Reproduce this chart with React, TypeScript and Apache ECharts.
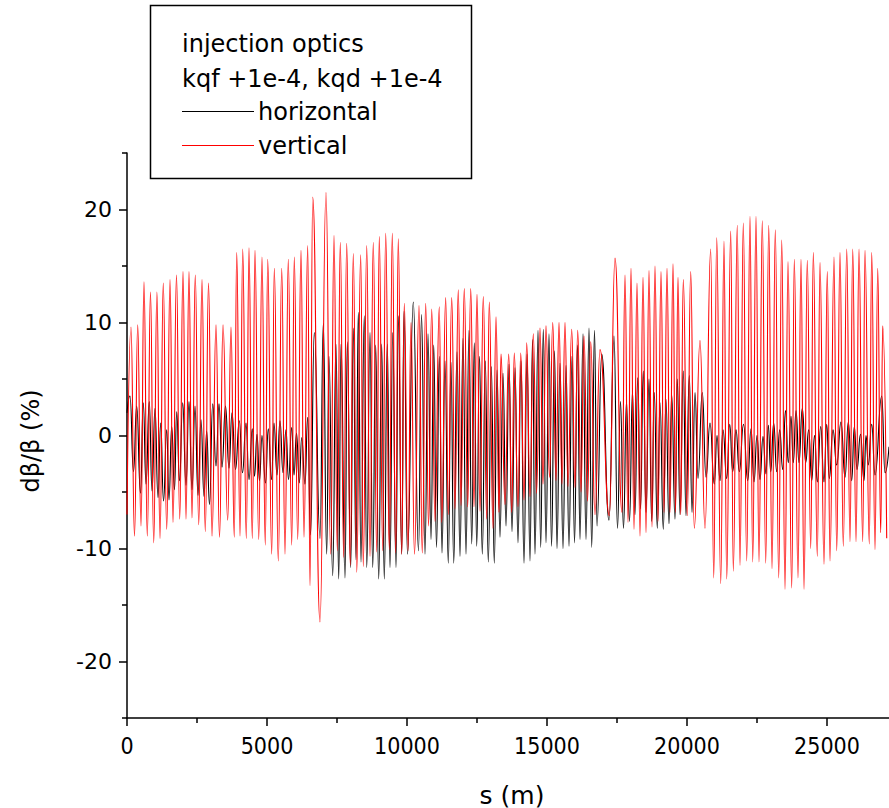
import React, { useEffect, useRef } from "react";
import * as echarts from "echarts";

const xMajor = [0, 5000, 10000, 15000, 20000, 25000];
const xMinor = [2500, 7500, 12500, 17500, 22500];
const yMajor = [-20, -10, 0, 10, 20];
const yMinor = [-25, -15, -5, 5, 15, 25];

const legendTitle = ["injection optics", "kqf +1e-4, kqd +1e-4"];
const seriesNames = ["horizontal", "vertical"];

// s (m), dβ/β (%) — extremes
const horizontal: [number, number][] = [
  [0, 2.0], [107, 3.5], [232, -3.2], [346, 2.6], [482, -5.1], [582, 2.9], [679, -4.3], [796, 3.0], [893, -4.9], [1000, 2.4],
  [1107, -5.5], [1204, 1.1], [1304, -5.8], [1418, 0.5], [1500, -5.7], [1596, 0.8], [1696, -4.8], [1775, 2.1], [1875, -4.0], [1989, 2.9],
  [2107, -4.4], [2214, 3.0], [2321, -4.8], [2429, 2.6], [2536, -5.3], [2643, 1.4], [2750, -5.4], [2846, 0.4], [2946, -6.1], [3061, 2.8],
  [3179, -2.7], [3286, 2.8], [3393, -2.8], [3518, 2.6], [3643, -2.9], [3750, 2.0], [3875, -3.0], [4011, 1.3], [4125, -3.3], [4250, 1.1],
  [4357, -3.9], [4475, 0.6], [4554, -3.6], [4643, 0.1], [4732, -4.0], [4821, 0.0], [4946, -4.2], [5046, 0.6], [5161, -3.9], [5250, 1.1],
  [5357, -3.5], [5464, 1.3], [5571, -3.3], [5679, 0.5], [5768, -3.9], [5882, 0.7], [5964, -3.5], [6054, 0.2], [6154, -4.2], [6239, -0.2],
  [6357, -4.3], [6454, 1.6], [6554, -8.8], [6689, 9.1], [6893, -9.1], [7011, 9.9], [7132, -10.5], [7214, 7.0], [7346, -12.4], [7464, 8.1],
  [7561, -12.7], [7643, 8.1], [7786, -12.6], [7868, 8.3], [7989, -11.7], [8082, 9.5], [8179, -11.0], [8261, 10.9], [8357, -11.2], [8475, 10.6],
  [8561, -11.7], [8679, 9.1], [8775, -11.7], [8882, 8.0], [8989, -12.7], [9096, 8.1], [9189, -12.7], [9296, 8.1], [9393, -11.7], [9489, 9.1],
  [9607, -11.7], [9689, 10.6], [9811, -10.5], [9893, 11.0], [10018, -10.5], [10225, 11.8], [10411, -10.2], [10518, 10.7], [10643, -10.5], [10750, 9.0],
  [10857, -9.2], [10954, 8.0], [11054, -9.9], [11154, 7.0], [11250, -10.4], [11357, 6.6], [11475, -11.3], [11571, 6.5], [11668, -11.3], [11786, 7.4],
  [11893, -10.7], [12000, 8.6], [12107, -10.5], [12214, 9.3], [12311, -9.6], [12404, 8.2], [12489, -9.8], [12589, 7.0], [12689, -10.5], [12796, 6.6],
  [12904, -11.2], [13011, 6.1], [13118, -11.3], [13214, 5.8], [13321, -9.0], [13429, 5.5], [13536, -8.0], [13643, 6.3], [13750, -8.5], [13857, 6.0],
  [13964, -9.5], [14071, 6.6], [14179, -11.3], [14286, 7.2], [14393, -11.1], [14482, 8.5], [14571, -10.5], [14679, 9.3], [14775, -9.9], [14868, 9.4],
  [14964, -9.5], [15071, 9.0], [15161, -9.8], [15268, 7.5], [15357, -10.0], [15464, 6.4], [15571, -10.0], [15679, 6.2], [15786, -9.8], [15893, 7.0],
  [15982, -9.5], [16089, 8.0], [16179, -9.2], [16286, 9.0], [16393, -9.2], [16500, 9.5], [16596, -9.9], [16696, 9.3], [16786, -8.0], [16954, 7.2],
  [17214, -7.5], [17393, 8.8], [17518, -8.2], [17625, 3.0], [17732, -8.2], [17839, 3.0], [17946, -7.6], [18054, 3.9], [18143, -7.0], [18239, 5.1],
  [18339, -6.5], [18439, 5.7], [18536, -6.8], [18643, 5.0], [18739, -7.6], [18832, 3.8], [18939, -8.2], [19036, 2.9], [19154, -8.3], [19250, 3.2],
  [19357, -7.8], [19454, 3.6], [19571, -7.4], [19654, 5.0], [19750, -7.0], [19868, 5.7], [19964, -7.1], [20082, 5.3], [20179, -6.8], [20286, 3.8],
  [20393, -3.8], [20546, 3.8], [20679, -3.7], [20821, 1.1], [20975, -4.3], [21071, 0.0], [21179, -4.0], [21286, 0.5], [21418, -3.8], [21525, 1.0],
  [21632, -3.2], [21750, 0.5], [21868, -3.2], [22018, 1.0], [22168, -4.0], [22286, 0.6], [22393, -4.1], [22500, 0.0], [22607, -3.9], [22714, -0.1],
  [22821, -3.4], [22904, 0.9], [22989, -3.2], [23096, 1.1], [23204, -3.2], [23311, 0.5], [23418, -3.0], [23518, 2.2], [23618, -2.4], [23714, 1.7],
  [23796, -2.4], [23893, 2.2], [24000, -2.4], [24118, 2.4], [24239, -2.4], [24346, 0.5], [24454, -4.0], [24554, 0.0], [24654, -4.1], [24775, 0.8],
  [24893, -4.1], [24989, 1.0], [25082, -3.8], [25214, 0.5], [25346, -2.6], [25500, 1.2], [25643, -3.7], [25761, 1.2], [25882, -4.0], [25975, 0.8],
  [26071, -3.0], [26196, 0.1], [26321, -4.0], [26393, 0.0], [26475, -2.6], [26596, 1.0], [26714, -3.5], [26954, 3.5], [27071, -3.3], [27214, -1.0],
];

const vertical: [number, number][] = [
  [0, -7.0], [143, 9.6], [268, -8.9], [382, 9.8], [500, -8.0], [607, 13.6], [725, -8.9], [839, 12.7], [954, -9.5], [1068, 12.7],
  [1179, -9.1], [1296, 13.5], [1418, -8.3], [1536, 13.8], [1643, -7.7], [1768, 14.2], [1882, -7.4], [2000, 14.5], [2107, -7.4], [2214, 14.5],
  [2321, -7.3], [2439, 14.2], [2561, -7.9], [2679, 13.8], [2796, -8.5], [2911, 13.5], [3036, -8.9], [3179, 9.8], [3304, -9.0], [3429, 9.8],
  [3596, -7.5], [3714, 9.6], [3832, -9.0], [3918, 16.2], [4036, -8.9], [4132, 16.5], [4261, -9.1], [4357, 16.6], [4475, -9.1], [4571, 16.4],
  [4704, -9.2], [4821, 15.8], [4939, -9.7], [5025, 15.6], [5168, -10.5], [5261, 14.8], [5404, -11.1], [5525, 14.8], [5643, -10.5], [5761, 15.6],
  [5882, -9.7], [5975, 15.8], [6096, -9.2], [6214, 16.4], [6321, -9.0], [6454, 16.8], [6536, -13.3], [6632, 21.1], [6893, -16.5], [7107, 21.5],
  [7275, -10.5], [7393, 17.7], [7511, -10.2], [7618, 17.1], [7739, -10.8], [7846, 17.0], [7975, -11.5], [8082, 16.1], [8204, -12.1], [8346, 16.0],
  [8439, -11.6], [8561, 16.8], [8679, -10.7], [8796, 17.1], [8918, -10.3], [9011, 17.6], [9132, -10.2], [9239, 17.9], [9368, -10.1], [9475, 17.9],
  [9596, -10.4], [9689, 17.4], [9811, -10.5], [9904, 11.7], [10036, -10.2], [10143, 10.0], [10268, -10.5], [10429, 11.5], [10546, -10.4], [10668, 11.7],
  [10768, -8.0], [10882, 11.2], [11000, -7.6], [11154, 11.4], [11239, -7.7], [11382, 12.2], [11475, -7.0], [11596, 12.2], [11714, -6.5], [11832, 12.9],
  [11929, -6.2], [12046, 13.0], [12168, -6.3], [12275, 13.0], [12393, -6.3], [12500, 12.5], [12607, -6.7], [12725, 12.3], [12846, -7.4], [12939, 11.8],
  [13071, -8.2], [13179, 10.5], [13286, -6.8], [13357, 7.2], [13500, -6.1], [13632, 7.2], [13739, -6.8], [13832, 7.3], [13964, -6.3], [14061, 7.3],
  [14179, -5.7], [14275, 8.2], [14393, -5.4], [14511, 9.0], [14625, -5.1], [14750, 9.5], [14857, -4.3], [14964, 9.7], [15089, -3.7], [15204, 10.0],
  [15321, -4.0], [15429, 10.0], [15536, -4.3], [15643, 10.0], [15750, -4.5], [15882, 9.4], [16000, -4.6], [16096, 9.3], [16214, -5.0], [16321, 8.8],
  [16446, -5.8], [16561, 8.3], [16714, -7.0], [16893, 7.6], [17225, -7.1], [17429, 15.7], [17679, -6.8], [17786, 14.2], [17893, -7.7], [18000, 14.8],
  [18107, -8.3], [18214, 13.5], [18321, -8.9], [18429, 14.0], [18536, -8.6], [18643, 14.6], [18750, -8.1], [18857, 15.0], [18964, -7.6], [19071, 14.5],
  [19179, -6.8], [19286, 14.8], [19393, -6.8], [19500, 15.2], [19589, -6.8], [19679, 14.0], [19775, -7.0], [19868, 13.8], [20011, -7.1], [20132, 14.5],
  [20261, -8.2], [20464, 8.4], [20643, -8.2], [20846, 16.5], [20954, -12.6], [21061, 17.5], [21204, -13.1], [21321, 17.2], [21418, -12.7], [21561, 18.1],
  [21654, -12.0], [21796, 18.6], [21893, -11.5], [22011, 18.8], [22132, -11.1], [22250, 19.4], [22346, -11.2], [22464, 19.4], [22571, -11.2], [22689, 19.0],
  [22811, -11.3], [22918, 18.6], [23036, -11.8], [23154, 18.2], [23275, -12.6], [23382, 17.3], [23500, -13.6], [23607, 15.4], [23739, -13.5], [23832, 15.6],
  [23964, -12.6], [24071, 15.6], [24179, -13.6], [24296, 15.5], [24418, -10.0], [24511, 16.2], [24654, -10.7], [24750, 15.3], [24893, -11.4], [25011, 14.5],
  [25107, -11.1], [25250, 15.8], [25346, -10.2], [25464, 16.2], [25582, -9.8], [25704, 16.5], [25821, -9.4], [25918, 16.5], [26036, -9.4], [26143, 16.5],
  [26275, -9.4], [26357, 16.4], [26511, -9.6], [26596, 16.2], [26714, -10.1], [26811, 14.8], [26918, -8.6], [26989, 9.7], [27132, -9.1],
];

const FONT = "DejaVu Sans, Liberation Sans, sans-serif";
const NARROW = "Liberation Sans Narrow, DejaVu Sans Condensed, Liberation Sans, sans-serif";

export default function App() {
  const ref = useRef<HTMLDivElement>(null);
  useEffect(() => {
    if (!ref.current) return;
    const chart = echarts.init(ref.current, undefined, { renderer: "svg" });
    const axisCommon = {
      type: "value" as const,
      splitLine: { show: false },
    };
    chart.setOption({
      animation: false,
      backgroundColor: "#fff",
      grid: { left: 127, right: 0, top: 153, bottom: 90, containLabel: false },
      xAxis: [
        {
          ...axisCommon,
          min: 0,
          max: 27214,
          position: "bottom",
          axisLine: { show: true, onZero: false, lineStyle: { color: "#000", width: 1.5 } },
          axisTick: { show: true, inside: false, length: 8, customValues: xMajor, lineStyle: { color: "#000", width: 1.5 } },
          axisLabel: {
            show: true,
            customValues: xMajor,
            formatter: (v: number) => String(v),
            fontSize: 23,
            color: "#000",
            fontFamily: NARROW,
            margin: 16,
          },
        },
        {
          ...axisCommon,
          min: 0,
          max: 27214,
          position: "bottom",
          axisLine: { show: false, onZero: false },
          axisTick: { show: true, inside: false, length: 5, customValues: xMinor, lineStyle: { color: "#000", width: 1.5 } },
          axisLabel: { show: false },
        },
      ],
      yAxis: [
        {
          ...axisCommon,
          min: -25,
          max: 25,
          position: "left",
          axisLine: { show: true, onZero: false, lineStyle: { color: "#000", width: 1.5 } },
          axisTick: { show: true, inside: false, length: 8, customValues: yMajor, lineStyle: { color: "#000", width: 1.5 } },
          axisLabel: {
            show: true,
            customValues: yMajor,
            formatter: (v: number) => String(v),
            fontSize: 22,
            color: "#000",
            fontFamily: FONT,
            margin: 15,
          },
        },
        {
          ...axisCommon,
          min: -25,
          max: 25,
          position: "left",
          axisLine: { show: false, onZero: false },
          axisTick: { show: true, inside: false, length: 5, customValues: yMinor, lineStyle: { color: "#000", width: 1.5 } },
          axisLabel: { show: false },
        },
      ],
      series: [
        {
          name: seriesNames[0],
          type: "line",
          xAxisIndex: 0,
          yAxisIndex: 0,
          data: horizontal,
          symbol: "none",
          showSymbol: false,
          smooth: 0.5,
          smoothMonotone: "x",
          lineStyle: { color: "#000", width: 1.1 },
          z: 2,
        },
        {
          name: seriesNames[1],
          type: "line",
          xAxisIndex: 0,
          yAxisIndex: 0,
          data: vertical,
          symbol: "none",
          showSymbol: false,
          smooth: 0.5,
          smoothMonotone: "x",
          lineStyle: { color: "#ff0000", width: 1.1 },
          z: 3,
        },
      ],
      graphic: [
        {
          type: "text",
          x: 512,
          y: 795,
          style: { text: "s (m)", fontSize: 25, fontFamily: FONT, fill: "#000", align: "center", verticalAlign: "middle" },
        },
        {
          type: "text",
          x: 31,
          y: 441,
          rotation: Math.PI / 2,
          style: { text: "dβ/β (%)", fontSize: 24, fontFamily: FONT, fill: "#000", align: "center", verticalAlign: "middle" },
        },
        {
          type: "rect",
          shape: { x: 150.5, y: 5.5, width: 321, height: 173 },
          style: { fill: "#fff", stroke: "#000", lineWidth: 1.5 },
          z: 10,
        },
        {
          type: "text",
          x: 182,
          y: 44,
          z: 11,
          style: { text: legendTitle[0], fontSize: 24, fontFamily: FONT, fill: "#000", verticalAlign: "middle" },
        },
        {
          type: "text",
          x: 182,
          y: 79,
          z: 11,
          style: { text: legendTitle[1], fontSize: 24, fontFamily: FONT, fill: "#000", verticalAlign: "middle" },
        },
        {
          type: "line",
          z: 11,
          shape: { x1: 182, y1: 111.5, x2: 254, y2: 111.5 },
          style: { stroke: "#000", lineWidth: 1 },
        },
        {
          type: "text",
          x: 258,
          y: 112,
          z: 11,
          style: { text: seriesNames[0], fontSize: 24, fontFamily: FONT, fill: "#000", verticalAlign: "middle" },
        },
        {
          type: "line",
          z: 11,
          shape: { x1: 182, y1: 145.5, x2: 254, y2: 145.5 },
          style: { stroke: "#ff0000", lineWidth: 1 },
        },
        {
          type: "text",
          x: 258,
          y: 146,
          z: 11,
          style: { text: seriesNames[1], fontSize: 24, fontFamily: FONT, fill: "#000", verticalAlign: "middle" },
        },
      ],
    });
    return () => chart.dispose();
  }, []);
  return (
    <div
      ref={ref}
      style={{ position: "absolute", left: 0, top: 0, width: 889, height: 808, background: "#fff" }}
    />
  );
}
